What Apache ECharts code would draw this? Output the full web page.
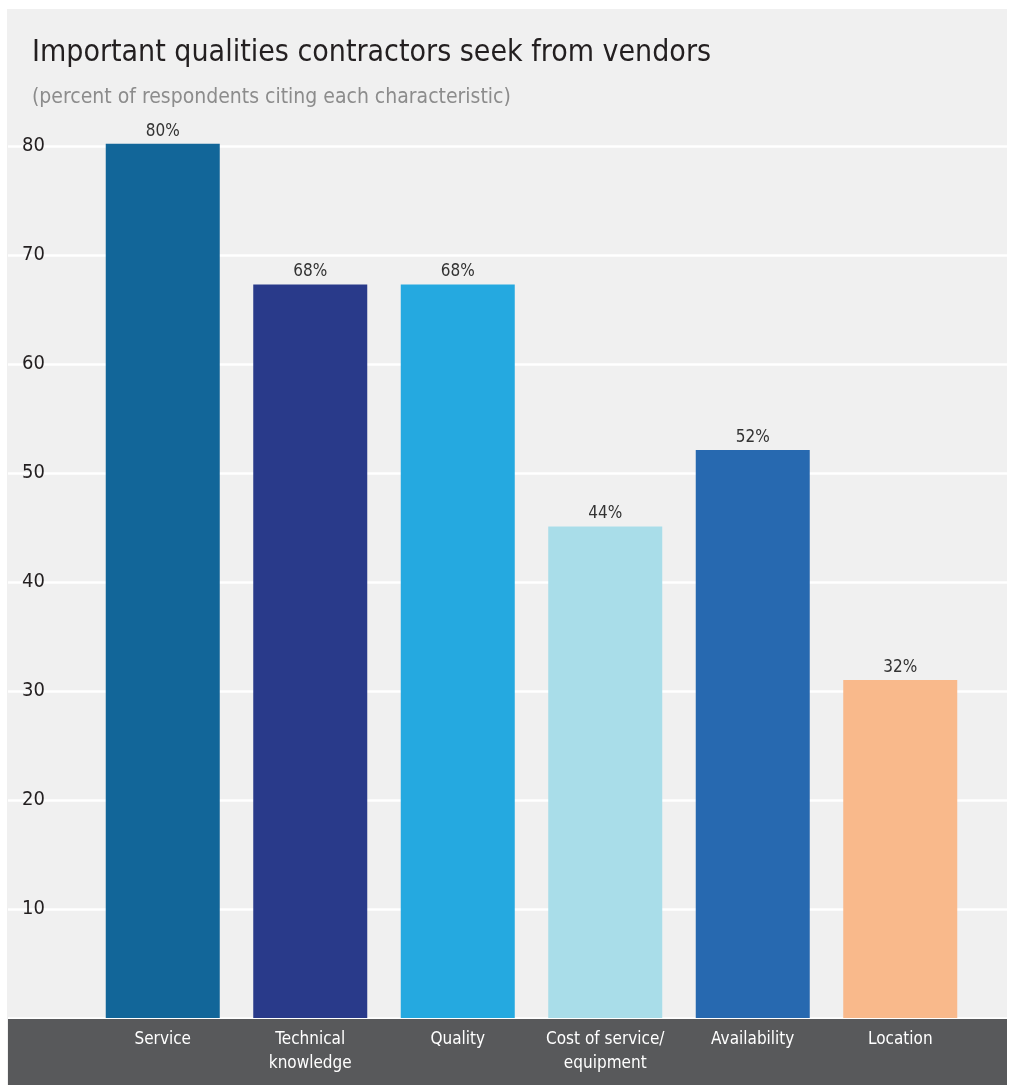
<!DOCTYPE html>
<html>
<head>
<meta charset="utf-8">
<script src="https://cdn.jsdelivr.net/npm/echarts@6/dist/echarts.min.js"></script>
<style>
    html, body { margin: 0; padding: 0; background: #fff; }
    #chart { width: 1010px; height: 1085px; }
</style>
</head>
<body>
<div id="chart"></div>
<script>
// data
var categories = ['Service', 'Technical\nknowledge', 'Quality', 'Cost of service/\nequipment', 'Availability', 'Location'];
var values = [80.2, 67.3, 67.3, 45.1, 52.1, 31.0];
var valueLabels = ['80%', '68%', '68%', '44%', '52%', '32%'];
var barColors = ['#126699', '#293a8a', '#25a9e0', '#a9dde9', '#2769b0', '#f9b98b'];
var yTicks = [0, 10, 20, 30, 40, 50, 60, 70, 80];

var font = '"DejaVu Sans Condensed", "DejaVu Sans", sans-serif';

var option = {
    backgroundColor: '#fff',
    title: [
        {
            text: 'Important qualities contractors seek from vendors',
            left: 27,
            top: 33,
            textStyle: { fontFamily: font, fontSize: 30, fontWeight: 'normal', color: '#231f20' }
        },
        {
            text: '(percent of respondents citing each characteristic)',
            left: 27,
            top: 82,
            textStyle: { fontFamily: font, fontSize: 21, fontWeight: 'normal', color: '#8c8c8c' }
        }
    ],
    graphic: [
        { type: 'rect', z: -10, shape: { x: 7, y: 9, width: 1000, height: 1076 }, style: { fill: '#f0f0f0' } },
        { type: 'rect', z: 50, shape: { x: 8, y: 1019, width: 999, height: 66 }, style: { fill: '#58595b' } }
    ],
    grid: [
        { left: 8, right: 3, top: 146, bottom: 67 },
        { left: 89, right: 36, top: 146, bottom: 67 }
    ],
    xAxis: [
        { type: 'value', gridIndex: 0, show: false, min: 0, max: 1 },
        {
            type: 'category',
            gridIndex: 1,
            data: categories,
            z: 60,
            axisLine: { show: false },
            axisTick: { show: false },
            axisLabel: {
                color: '#fff',
                fontFamily: font,
                fontSize: 17,
                lineHeight: 24,
                margin: 10,
                interval: 0
            }
        }
    ],
    yAxis: [
        {
            type: 'value',
            gridIndex: 0,
            min: yTicks[0],
            max: yTicks[yTicks.length - 1],
            interval: 10,
            axisLine: { show: false },
            axisTick: { show: false },
            splitLine: { lineStyle: { color: '#fff', width: 2.5 } },
            axisLabel: {
                inside: true,
                margin: 14,
                color: '#231f20',
                fontFamily: font,
                fontSize: 20,
                formatter: function (v) { return v === 0 ? '' : v; }
            }
        },
        { type: 'value', gridIndex: 1, show: false, min: 0, max: 80 }
    ],
    series: [
        {
            type: 'bar',
            xAxisIndex: 1,
            yAxisIndex: 1,
            barWidth: 114,
            clip: false,
            z: 5,
            data: values.map(function (v, i) {
                return { value: v, itemStyle: { color: barColors[i] } };
            }),
            label: {
                show: true,
                position: 'top',
                distance: 4,
                color: '#333',
                fontFamily: font,
                fontSize: 17,
                formatter: function (p) { return valueLabels[p.dataIndex]; }
            }
        }
    ]
};

echarts.init(document.getElementById('chart')).setOption(option);
</script>
</body>
</html>
